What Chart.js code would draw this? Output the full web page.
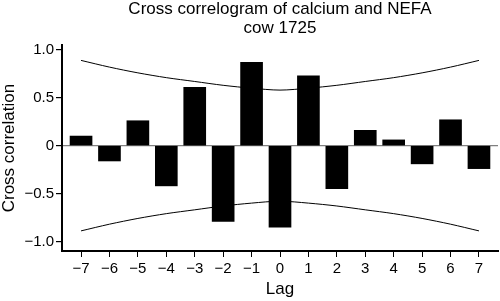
<!DOCTYPE html>
<html>
<head>
<meta charset="utf-8">
<script src="https://cdn.jsdelivr.net/npm/chart.js@4"></script>
<style>
  body { margin: 0; background: #fff; }
  #wrap { width: 500px; height: 301px; }
</style>
</head>
<body>
<div id="wrap"><canvas id="ccf"></canvas></div>
<script>
// lags and cross correlation values
const lags = [-7, -6, -5, -4, -3, -2, -1, 0, 1, 2, 3, 4, 5, 6, 7];
const crossCorr = [0.10, -0.16, 0.26, -0.42, 0.61, -0.79, 0.87, -0.85, 0.73, -0.45, 0.16, 0.06, -0.19, 0.27, -0.24];
const upperBand = [0.89, 0.82, 0.76, 0.71, 0.67, 0.63, 0.60, 0.58, 0.60, 0.63, 0.67, 0.71, 0.76, 0.82, 0.89];
const lowerBand = [-0.89, -0.82, -0.76, -0.71, -0.67, -0.63, -0.60, -0.58, -0.60, -0.63, -0.67, -0.71, -0.76, -0.82, -0.89];
const yTicks = [-1, -0.5, 0, 0.5, 1];

const pts = arr => arr.map((v, i) => ({ x: lags[i], y: v }));
const minus = s => s.replace('-', '\u2212');
const font = 'Liberation Sans, Arial, Helvetica, sans-serif';

new Chart(document.getElementById('ccf'), {
    data: {
        datasets: [
            {
                type: 'bar',
                data: pts(crossCorr),
                backgroundColor: '#000',
                barThickness: 22
            },
            {
                type: 'line',
                data: pts(upperBand),
                borderColor: '#000',
                borderWidth: 1,
                pointRadius: 0,
                tension: 0.3
            },
            {
                type: 'line',
                data: pts(lowerBand),
                borderColor: '#000',
                borderWidth: 1,
                pointRadius: 0,
                tension: 0.3
            }
        ]
    },
    options: {
        responsive: true,
        maintainAspectRatio: false,
        animation: false,
        layout: { padding: { left: 0, right: 2, top: 0, bottom: 0 } },
        plugins: {
            legend: { display: false },
            tooltip: { enabled: false },
            title: {
                display: true,
                fullSize: false,
                text: ['Cross correlogram of calcium and NEFA', 'cow 1725'],
                color: '#000',
                font: { family: font, size: 17, weight: 'normal', lineHeight: 1.12 },
                padding: { top: 0, bottom: 7 }
            }
        },
        scales: {
            x: {
                type: 'linear',
                min: -7.67,
                max: 7.67,
                offset: false,
                afterBuildTicks: s => { s.ticks = lags.map(v => ({ value: v })); },
                afterFit: s => { s.height = 50; },
                grid: { display: true, offset: false, drawOnChartArea: false, tickLength: 6, tickColor: '#000' },
                border: { display: true, color: '#000', width: 2 },
                ticks: {
                    color: '#000',
                    padding: 3,
                    maxRotation: 0,
                    autoSkip: false,
                    font: { family: font, size: 15 },
                    callback: v => minus(String(v))
                },
                title: {
                    display: true,
                    text: 'Lag',
                    color: '#000',
                    font: { family: font, size: 17, lineHeight: 1.1 },
                    padding: { top: 0, bottom: 2 }
                }
            },
            y: {
                min: -1.1,
                max: 1.05,
                afterBuildTicks: s => { s.ticks = yTicks.map(v => ({ value: v })); },
                afterFit: s => { s.width = 62; },
                grid: {
                    display: true,
                    drawOnChartArea: true,
                    tickLength: 6,
                    tickColor: '#000',
                    color: c => (c.tick && c.tick.value === 0 ? '#808080' : 'rgba(0,0,0,0)'),
                    lineWidth: 1.2
                },
                border: { display: true, color: '#000', width: 2 },
                ticks: {
                    color: '#000',
                    padding: 2,
                    font: { family: font, size: 15 },
                    callback: v => (v === 0 ? '0' : minus(v.toFixed(1)))
                },
                title: {
                    display: true,
                    text: 'Cross correlation',
                    color: '#000',
                    font: { family: font, size: 17, lineHeight: 1.05 },
                    padding: { top: 0, bottom: 0 }
                }
            }
        }
    }
});
</script>
</body>
</html>
